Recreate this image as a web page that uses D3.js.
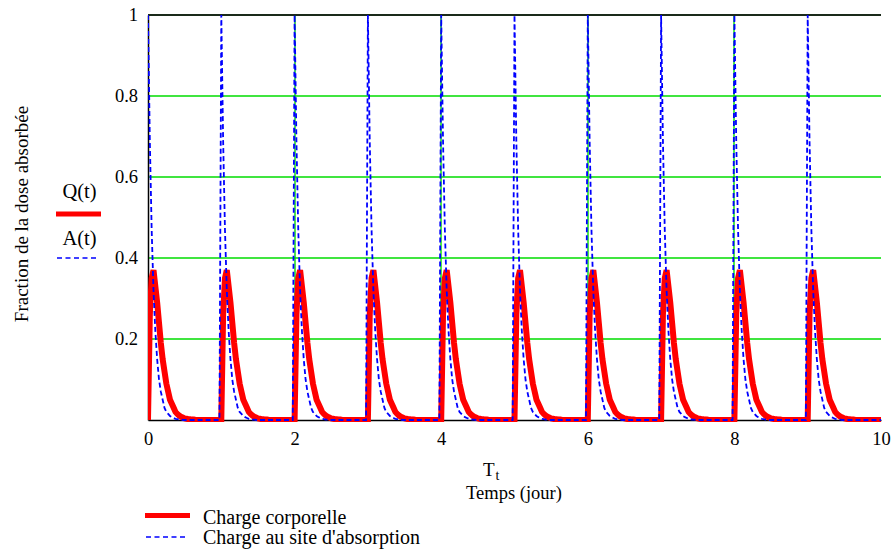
<!DOCTYPE html>
<html>
<head>
<meta charset="utf-8">
<script src="https://cdn.jsdelivr.net/npm/d3@7"></script>
<style>
  body { margin: 0; background: #fff; }
  svg text { font-family: "Liberation Serif", "Times New Roman", Times, "DejaVu Serif", serif; fill: #000; }
</style>
</head>
<body>
<svg id="chart" width="896" height="550"></svg>
<script>
// Dosing schedule: one dose at the start of each day
const doseDays = [0, 1, 2, 3, 4, 5, 6, 7, 8, 9];
// Sampling step within one dosing interval (days)
const stepDay = 0.025;
// Body load Q(t) over one interval, sampled every stepDay from the dose
const bodyProfile = [
  0, 0.26, 0.35, 0.37, 0.33, 0.29, 0.24, 0.19, 0.15, 0.12,
  0.09, 0.07, 0.05, 0.04, 0.03, 0.02, 0.015, 0.011, 0.008, 0.006,
  0.004, 0.003, 0.002, 0.002, 0.001, 0.001, 0, 0, 0, 0,
  0, 0, 0, 0, 0, 0, 0, 0, 0, 0
];
// Amount at the absorption site A(t) over one interval
const siteProfile = [
  1, 0.69, 0.47, 0.32, 0.22, 0.15, 0.1, 0.07, 0.05, 0.03,
  0.02, 0.015, 0.01, 0.007, 0.005, 0.003, 0.002, 0.001, 0.001, 0,
  0, 0, 0, 0, 0, 0, 0, 0, 0, 0,
  0, 0, 0, 0, 0, 0, 0, 0, 0, 0
];
const endDay = 10;
const xTicks = [0, 2, 4, 6, 8, 10];
const yTicks = [0.2, 0.4, 0.6, 0.8, 1];
const xGrid = [2, 4, 6, 8];
const yGrid = [0.2, 0.4, 0.6, 0.8];

const FONT = '"Liberation Serif", "Times New Roman", Times, "DejaVu Serif", serif';
const svg = d3.select("#chart");
const x = d3.scaleLinear().domain([0, endDay]).range([148, 881]);
const y = d3.scaleLinear().domain([0, 1]).range([420, 15]);

// Assemble the full time series from the per-interval profiles
function buildSeries(profile) {
  const pts = [];
  doseDays.forEach(d => profile.forEach((v, i) => pts.push([d + i * stepDay, v])));
  pts.push([endDay, 0]);
  return pts;
}
const bodySeries = buildSeries(bodyProfile);
const siteSeries = buildSeries(siteProfile);

const green = "#00dc00";

// Grid lines
svg.append("g").selectAll("line").data(yGrid).join("line")
  .attr("x1", x(0)).attr("x2", x(endDay))
  .attr("y1", d => Math.round(y(d))).attr("y2", d => Math.round(y(d)))
  .attr("stroke", green).attr("stroke-width", 1.4);
svg.append("g").selectAll("line").data(xGrid).join("line")
  .attr("x1", d => Math.round(x(d))).attr("x2", d => Math.round(x(d)))
  .attr("y1", y(0)).attr("y2", y(1))
  .attr("stroke", green).attr("stroke-width", 1.4);

// Axes
const xAxis = svg.append("g").attr("transform", `translate(0,${y(0)})`)
  .call(d3.axisBottom(x).tickValues(xTicks).tickSize(0).tickPadding(12).tickFormat(d3.format("d")));
xAxis.select(".domain").attr("stroke", "#000").attr("stroke-width", 1.5);
const yAxis = svg.append("g").attr("transform", `translate(${x(0)},0)`)
  .call(d3.axisLeft(y).tickValues(yTicks).tickSize(0).tickPadding(10).tickFormat(d => d === 1 ? "1" : d3.format(".1f")(d)));
yAxis.select(".domain").attr("stroke", "#000").attr("stroke-width", 1.5);
svg.selectAll(".tick text").attr("font-family", null).style("font-family", FONT).style("font-size", "18.5px");

// Top frame line
svg.append("line").attr("x1", x(0)).attr("x2", x(endDay))
  .attr("y1", y(1)).attr("y2", y(1))
  .attr("stroke", "#1a2a1a").attr("stroke-width", 2);

// Curves
svg.append("defs").append("clipPath").attr("id", "plotClip")
  .append("rect").attr("x", x(0)).attr("y", y(1) - 2)
  .attr("width", x(endDay) - x(0) + 2).attr("height", y(0) - y(1) + 4);

const line = d3.line().x(d => x(d[0])).y(d => y(d[1]));
const curves = svg.append("g").attr("clip-path", "url(#plotClip)");
curves.append("path").datum(bodySeries).attr("d", line)
  .attr("fill", "none").attr("stroke", "#ff0000").attr("stroke-width", 6)
  .attr("stroke-linejoin", "miter").attr("stroke-miterlimit", 2);
curves.append("path").datum(siteSeries).attr("d", line)
  .attr("fill", "none").attr("stroke", "#0000ff").attr("stroke-width", 1.8)
  .attr("stroke-dasharray", "5,3");

// Text helper
function label(xp, yp, txt, size, anchor) {
  return svg.append("text").attr("x", xp).attr("y", yp)
    .attr("text-anchor", anchor || "start")
    .style("font-family", FONT).style("font-size", size + "px").text(txt);
}

// Axis titles
const xt = svg.append("text").attr("x", 483).attr("y", 476)
  .style("font-family", FONT).style("font-size", "19px");
xt.append("tspan").text("T");
xt.append("tspan").attr("dy", 4).attr("dx", 1).style("font-size", "14px").text("t");
label(514, 499, "Temps (jour)", 18.5, "middle");
svg.append("text").attr("transform", "translate(28,214) rotate(-90)")
  .attr("text-anchor", "middle").style("font-family", FONT).style("font-size", "19px")
  .text("Fraction de la dose absorbée");

// Side legend
label(79.5, 198, "Q(t)", 20.5, "middle");
svg.append("line").attr("x1", 56).attr("x2", 101).attr("y1", 214).attr("y2", 214)
  .attr("stroke", "#ff0000").attr("stroke-width", 5);
label(79.5, 245, "A(t)", 20.5, "middle");
svg.append("line").attr("x1", 57).attr("x2", 99).attr("y1", 258).attr("y2", 258)
  .attr("stroke", "#0000ff").attr("stroke-width", 1.5).attr("stroke-dasharray", "5,3.5");

// Bottom legend
svg.append("line").attr("x1", 145).attr("x2", 190).attr("y1", 515.5).attr("y2", 515.5)
  .attr("stroke", "#ff0000").attr("stroke-width", 5);
label(203, 524, "Charge corporelle", 20);
svg.append("line").attr("x1", 146).attr("x2", 188).attr("y1", 537).attr("y2", 537)
  .attr("stroke", "#0000ff").attr("stroke-width", 1.5).attr("stroke-dasharray", "5,3.5");
label(203, 544, "Charge au site d'absorption", 20);
</script>
</body>
</html>
